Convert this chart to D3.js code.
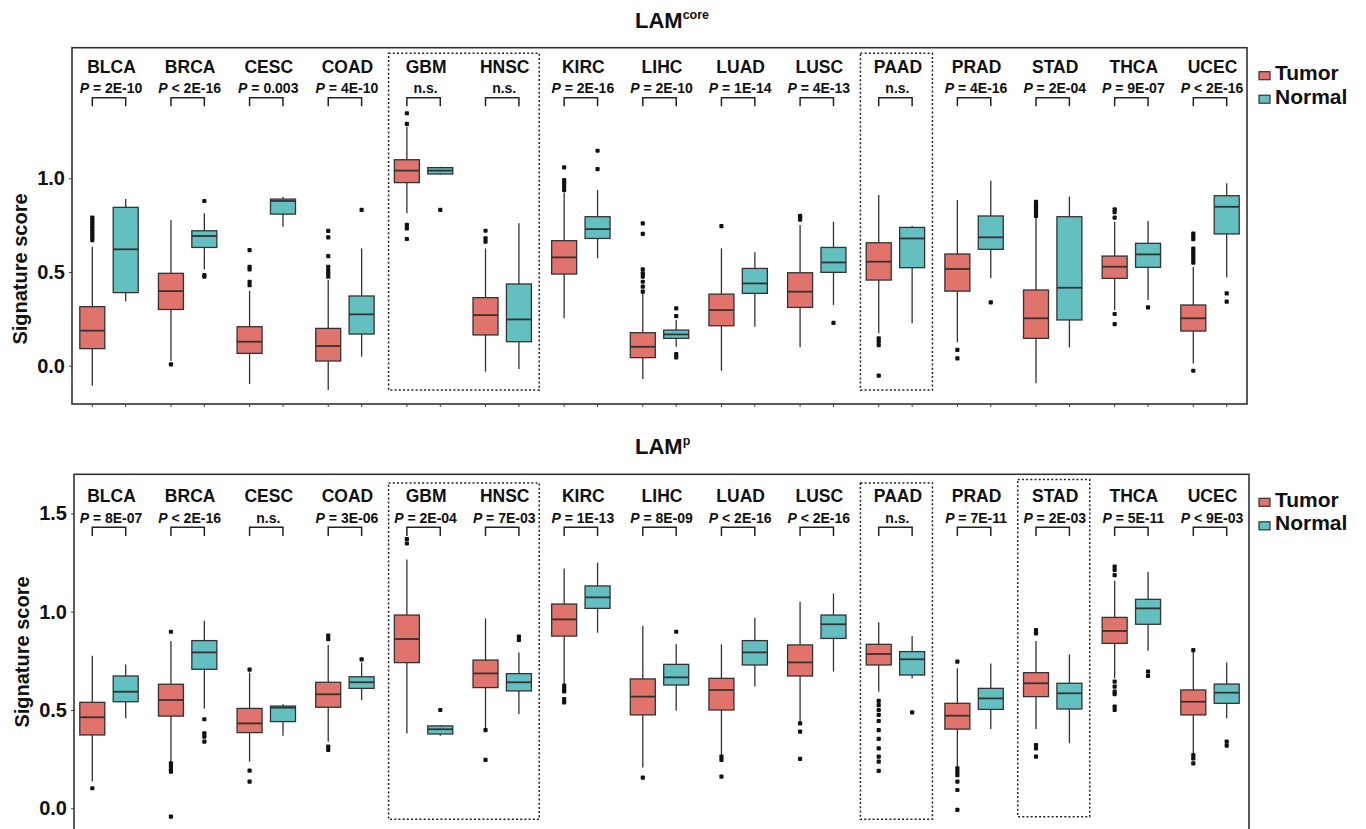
<!DOCTYPE html>
<html>
<head>
<meta charset="utf-8">
<script src="https://d3js.org/d3.v7.min.js"></script>
<style>
  body { margin: 0; background: #fff; }
  svg { font-family: "Liberation Sans", Arial, sans-serif; }
</style>
</head>
<body>
<svg></svg>
<script>
const width = 1366;
const height = 829;

const categories = ["BLCA","BRCA","CESC","COAD","GBM","HNSC","KIRC","LIHC","LUAD","LUSC","PAAD","PRAD","STAD","THCA","UCEC"];
const groups = ["Tumor", "Normal"];
const colors = { Tumor: "#e0736b", Normal: "#63bfc0" };

// boxes: [lower whisker, q1, median, q3, upper whisker]
const coreTumorBox = [
  [-0.107, 0.091, 0.187, 0.315, 0.635], [0.025, 0.30, 0.398, 0.493, 0.777],
  [-0.098, 0.066, 0.128, 0.208, 0.40], [-0.13, 0.025, 0.105, 0.199, 0.457],
  [0.813, 0.977, 1.041, 1.099, 1.275], [-0.032, 0.164, 0.27, 0.363, 0.626],
  [0.253, 0.489, 0.578, 0.667, 0.923], [-0.071, 0.043, 0.101, 0.176, 0.386],
  [-0.027, 0.213, 0.297, 0.382, 0.626], [0.098, 0.311, 0.395, 0.496, 0.751],
  [0.173, 0.457, 0.555, 0.656, 0.911], [0.125, 0.398, 0.516, 0.596, 0.884],
  [-0.094, 0.146, 0.253, 0.404, 0.795], [0.297, 0.466, 0.528, 0.585, 0.768],
  [0.012, 0.185, 0.253, 0.324, 0.528]
];
const coreNormalBox = [
  [0.342, 0.39, 0.621, 0.845, 0.889], [0.514, 0.631, 0.692, 0.72, 0.813],
  [0.742, 0.809, 0.879, 0.889, 0.902], [0.048, 0.169, 0.274, 0.372, 0.626],
  [1.017, 1.023, 1.041, 1.057, 1.062], [-0.018, 0.128, 0.247, 0.436, 0.76],
  [0.573, 0.679, 0.729, 0.795, 0.937], [0.101, 0.146, 0.167, 0.19, 0.244],
  [0.208, 0.386, 0.439, 0.519, 0.605], [0.324, 0.498, 0.551, 0.631, 0.768],
  [0.226, 0.523, 0.679, 0.738, 0.745], [0.466, 0.621, 0.685, 0.799, 0.987],
  [0.098, 0.244, 0.416, 0.795, 0.902], [0.35, 0.525, 0.594, 0.653, 0.772],
  [0.471, 0.703, 0.848, 0.907, 0.973]
];
const coreTumorOut = [
  [0.79, 0.775, 0.76, 0.745, 0.73, 0.715, 0.70, 0.685, 0.67], [0.007],
  [0.617, 0.528, 0.514, 0.448, 0.43], [0.719, 0.685, 0.585, 0.528, 0.51, 0.493, 0.475],
  [1.347, 1.29, 0.751, 0.733, 0.676], [0.72, 0.68, 0.662],
  [1.058, 0.991, 0.973, 0.955, 0.937], [0.76, 0.703, 0.514, 0.493, 0.475, 0.448, 0.422, 0.395],
  [0.745], [0.80, 0.79, 0.78],
  [0.146, 0.128, 0.11, -0.053], [0.084, 0.039],
  [0.875, 0.86, 0.845, 0.83, 0.815, 0.80], [0.834, 0.82, 0.79, 0.276, 0.222],
  [0.705, 0.69, 0.675, 0.625, 0.61, 0.595, 0.58, 0.565, 0.55, -0.027]
];
const coreNormalOut = [
  [], [0.879, 0.484, 0.475], [], [0.831], [0.831], [], [1.147, 1.049],
  [0.306, 0.265, 0.062, 0.044], [], [0.229], [], [0.338], [], [0.311], [0.386, 0.342]
];
const corePvals = ["= 2E-10","< 2E-16","= 0.003","= 4E-10","n.s.","n.s.","= 2E-16","= 2E-10",
  "= 1E-14","= 4E-13","n.s.","= 4E-16","= 2E-04","= 9E-07","< 2E-16"];

const lampTumorBox = [
  [0.136, 0.373, 0.463, 0.539, 0.776], [0.237, 0.469, 0.551, 0.631, 0.851],
  [0.237, 0.385, 0.432, 0.508, 0.69], [0.339, 0.514, 0.58, 0.641, 0.83],
  [0.381, 0.741, 0.861, 0.983, 1.266], [0.407, 0.614, 0.686, 0.754, 0.966],
  [0.627, 0.876, 0.961, 1.039, 1.22], [0.207, 0.475, 0.568, 0.658, 0.929],
  [0.271, 0.5, 0.602, 0.661, 0.834], [0.441, 0.673, 0.742, 0.831, 1.051],
  [0.593, 0.729, 0.785, 0.834, 0.946], [0.212, 0.403, 0.471, 0.534, 0.712],
  [0.403, 0.568, 0.636, 0.69, 0.851], [0.661, 0.839, 0.902, 0.971, 1.158],
  [0.28, 0.475, 0.542, 0.602, 0.797]
];
const lampNormalBox = [
  [0.458, 0.542, 0.593, 0.673, 0.732], [0.508, 0.707, 0.793, 0.853, 0.954],
  [0.369, 0.441, 0.512, 0.52, 0.529], [0.551, 0.61, 0.641, 0.669, 0.741],
  [0.369, 0.378, 0.402, 0.419, 0.424], [0.48, 0.597, 0.641, 0.685, 0.792],
  [0.893, 1.017, 1.073, 1.131, 1.249], [0.497, 0.627, 0.666, 0.732, 0.834],
  [0.619, 0.729, 0.793, 0.853, 0.969], [0.695, 0.864, 0.936, 0.983, 1.093],
  [0.66, 0.678, 0.758, 0.797, 0.876], [0.403, 0.503, 0.559, 0.61, 0.737],
  [0.331, 0.505, 0.585, 0.636, 0.783], [0.802, 0.936, 1.017, 1.063, 1.203],
  [0.458, 0.534, 0.588, 0.632, 0.742]
];
const lampTumorOut = [
  [0.102], [0.898, 0.229, 0.212, 0.195, 0.186, -0.042], [0.705, 0.192, 0.136],
  [0.878, 0.86, 0.314, 0.297], [1.369, 1.347], [0.398, 0.246],
  [0.624, 0.61, 0.595, 0.556, 0.539], [0.156], [0.263, 0.246, 0.161],
  [0.432, 0.39, 0.251],
  [0.546, 0.525, 0.5, 0.475, 0.444, 0.398, 0.353, 0.305, 0.263, 0.237, 0.19],
  [0.746, 0.203, 0.186, 0.169, 0.136, 0.093, -0.008],
  [0.907, 0.89, 0.322, 0.305, 0.263],
  [1.229, 1.212, 1.186, 0.644, 0.619, 0.593, 0.58, 0.517, 0.5],
  [0.805, 0.271, 0.254, 0.229]
];
const lampNormalOut = [
  [], [0.453, 0.381, 0.364, 0.339], [], [0.758], [0.5], [0.873, 0.856], [],
  [0.898], [], [], [0.488], [], [], [0.695, 0.673], [0.339, 0.319]
];
const lampPvals = ["= 8E-07","< 2E-16","n.s.","= 3E-06","= 2E-04","= 7E-03","= 1E-13","= 8E-09",
  "< 2E-16","< 2E-16","n.s.","= 7E-11","= 2E-03","= 5E-11","< 9E-03"];

// dashed highlight boxes: [first category, last category, bottom value, top value]
const coreHighlights = [["GBM", "HNSC", -0.13, 1.667], ["PAAD", "PAAD", -0.13, 1.667]];
const lampHighlights = [["GBM", "HNSC", -0.056, 1.655], ["PAAD", "PAAD", -0.056, 1.655], ["STAD", "STAD", -0.043, 1.672]];

const coreTicks = [0, 0.5, 1.0];
const lampTicks = [0, 0.5, 1.0, 1.5];

const svg = d3.select("svg").attr("width", width).attr("height", height);

const x = d3.scalePoint().domain(categories).range([109, 1210]);
const dodge = d3.scaleBand().domain(groups).range([-33.4, 33.4]);
const boxW = 25;

const panels = [
  { title: "LAM", sup: "core", titleY: 28, supDy: -9, top: 47.7, bottom: 404, left: 72, right: 1247,
    yRange: [365.7, 178.3], ticks: coreTicks, labelX: 27, labelY: 269,
    tumorBox: coreTumorBox, normalBox: coreNormalBox, tumorOut: coreTumorOut, normalOut: coreNormalOut,
    pvals: corePvals, highlights: coreHighlights },
  { title: "LAM", sup: "p", titleY: 454, supDy: -9, top: 474.3, bottom: 849, left: 74, right: 1249,
    yRange: [808.3, 611.7], ticks: lampTicks, labelX: 29, labelY: 652,
    tumorBox: lampTumorBox, normalBox: lampNormalBox, tumorOut: lampTumorOut, normalOut: lampNormalOut,
    pvals: lampPvals, highlights: lampHighlights }
];

panels.forEach(p => drawPanel(p));

function drawPanel(p) {
  const y = d3.scaleLinear().domain([0, 1]).range(p.yRange);
  const g = svg.append("g");

  // title
  const t = g.append("text").attr("x", 635).attr("y", p.titleY)
    .attr("font-size", 22).attr("font-weight", "bold").attr("fill", "#111");
  t.append("tspan").text(p.title);
  t.append("tspan").attr("font-size", 12.5).attr("dy", p.supDy).text(p.sup);

  // y axis
  const yAxis = d3.axisLeft(y).tickValues(p.ticks).tickSize(3).tickPadding(4)
    .tickFormat(d3.format(".1f"));
  const ya = g.append("g").attr("transform", `translate(${p.left},0)`).call(yAxis);
  ya.select(".domain").remove();
  ya.selectAll(".tick line").attr("stroke", "#444");
  ya.selectAll(".tick text").attr("font-size", 20).attr("font-weight", "bold")
    .attr("fill", "#111").attr("font-family", "Liberation Sans, Arial, sans-serif");

  g.append("text")
    .attr("transform", `translate(${p.labelX},${p.labelY}) rotate(-90)`)
    .attr("text-anchor", "middle").attr("font-size", 20).attr("font-weight", "bold")
    .attr("fill", "#111").text("Signature score");

  // x ticks under frame
  const xTicks = [];
  categories.forEach(c => groups.forEach(gr => xTicks.push(x(c) + dodge(gr) + dodge.bandwidth() / 2)));
  g.selectAll(".xtick").data(xTicks).join("line")
    .attr("x1", d => d).attr("x2", d => d)
    .attr("y1", p.bottom).attr("y2", p.bottom + 3)
    .attr("stroke", "#444").attr("stroke-width", 1);

  // highlight rectangles
  g.selectAll(".hl").data(p.highlights).join("rect")
    .attr("x", d => x(d[0]) - 35)
    .attr("y", d => y(d[3]))
    .attr("width", d => x(d[1]) - x(d[0]) + 72)
    .attr("height", d => y(d[2]) - y(d[3]))
    .attr("fill", "none").attr("stroke", "#222").attr("stroke-width", 1.5)
    .attr("stroke-dasharray", "2,2.2");

  // labels, p-values, brackets
  const lab = g.selectAll(".cat").data(categories).join("g");
  lab.append("text").attr("x", d => x(d) + 2.5).attr("y", y(1.56))
    .attr("text-anchor", "middle").attr("font-size", 17.5).attr("font-weight", "bold")
    .attr("fill", "#111").text(d => d);
  lab.append("text").attr("x", d => x(d) + 2).attr("y", y(1.453))
    .attr("text-anchor", "middle").attr("font-size", 14).attr("font-weight", "bold")
    .attr("fill", "#111")
    .each(function (d, i) {
      const s = d3.select(this);
      const pv = p.pvals[i];
      if (pv === "n.s.") { s.text(pv); return; }
      s.append("tspan").attr("font-style", "italic").text("P");
      s.append("tspan").text(" " + pv);
    });
  lab.append("path")
    .attr("d", d => {
      const x0 = x(d) + dodge("Tumor") + dodge.bandwidth() / 2;
      const x1 = x(d) + dodge("Normal") + dodge.bandwidth() / 2;
      return `M${x0},${y(1.385)}V${y(1.43)}H${x1}V${y(1.385)}`;
    })
    .attr("fill", "none").attr("stroke", "#222").attr("stroke-width", 1.5);

  // boxes
  const rows = [];
  categories.forEach((c, i) => {
    rows.push({ cat: c, grp: "Tumor", s: p.tumorBox[i], out: p.tumorOut[i] });
    rows.push({ cat: c, grp: "Normal", s: p.normalBox[i], out: p.normalOut[i] });
  });
  const bx = g.selectAll(".box").data(rows).join("g")
    .attr("transform", d => `translate(${x(d.cat) + dodge(d.grp) + dodge.bandwidth() / 2},0)`);
  bx.append("line").attr("y1", d => y(d.s[0])).attr("y2", d => y(d.s[1]))
    .attr("stroke", "#333").attr("stroke-width", 1.3);
  bx.append("line").attr("y1", d => y(d.s[3])).attr("y2", d => y(d.s[4]))
    .attr("stroke", "#333").attr("stroke-width", 1.3);
  bx.append("rect").attr("x", -boxW / 2).attr("width", boxW)
    .attr("y", d => y(d.s[3])).attr("height", d => Math.max(1, y(d.s[1]) - y(d.s[3])))
    .attr("fill", d => colors[d.grp]).attr("stroke", "#333").attr("stroke-width", 1.3);
  bx.append("line").attr("x1", -boxW / 2).attr("x2", boxW / 2)
    .attr("y1", d => y(d.s[2])).attr("y2", d => y(d.s[2]))
    .attr("stroke", "#333").attr("stroke-width", 1.8);
  bx.selectAll("rect.out").data(d => d.out).join("rect")
    .attr("class", "out").attr("x", -2.1).attr("width", 4.2).attr("height", 4.2)
    .attr("y", d => y(d) - 2.1).attr("rx", 1).attr("fill", "#111");

  // frame
  g.append("rect").attr("x", p.left).attr("y", p.top)
    .attr("width", p.right - p.left).attr("height", p.bottom - p.top)
    .attr("fill", "none").attr("stroke", "#333").attr("stroke-width", 1.6);

  // legend
  const lg = g.selectAll(".leg").data(groups).join("g")
    .attr("transform", (d, i) => `translate(1259,${p.top + 24 + i * 23.5})`);
  lg.append("rect").attr("width", 11).attr("height", 8)
    .attr("fill", d => colors[d]).attr("stroke", "#333").attr("stroke-width", 1.2);
  lg.append("text").attr("x", 16).attr("y", 8.5).attr("font-size", 21)
    .attr("font-weight", "bold").attr("fill", "#111").text(d => d);
}
</script>
</body>
</html>
